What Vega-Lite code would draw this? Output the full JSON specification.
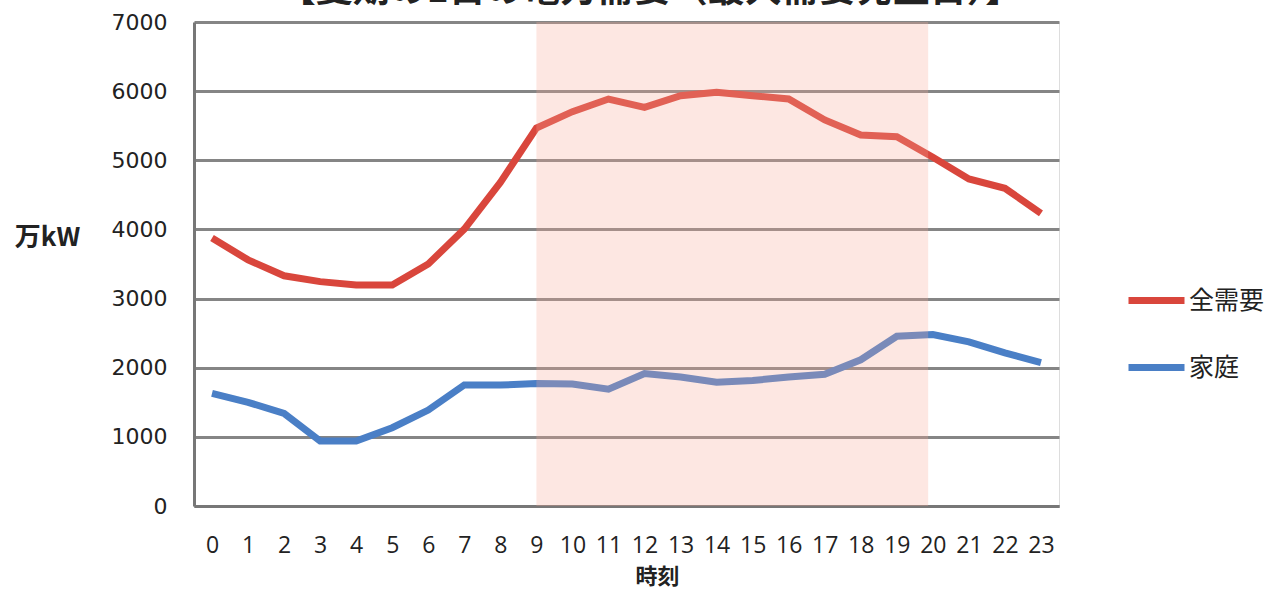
{
  "$schema": "https://vega.github.io/schema/vega-lite/v6.json",
  "autosize": "none",
  "width": 865,
  "height": 484,
  "padding": {"left": 194, "top": 22, "right": 214, "bottom": 84},
  "background": "white",
  "config": {"axis": {"labelOverlap": false}},
  "title": {
    "text": "【夏期の1日の電力需要（最大需要発生日）】",
    "font": "Noto Sans CJK JP",
    "fontSize": 37,
    "fontWeight": "bold",
    "color": "#222222",
    "anchor": "middle",
    "frame": "group",
    "baseline": "bottom",
    "offset": 10,
    "dx": 24,
    "dy": 46
  },
  "datasets": {
    "demand": [
      {"hour": 0, "series": "全需要", "value": 3875},
      {"hour": 1, "series": "全需要", "value": 3560},
      {"hour": 2, "series": "全需要", "value": 3330},
      {"hour": 3, "series": "全需要", "value": 3245},
      {"hour": 4, "series": "全需要", "value": 3196},
      {"hour": 5, "series": "全需要", "value": 3196},
      {"hour": 6, "series": "全需要", "value": 3500},
      {"hour": 7, "series": "全需要", "value": 4005},
      {"hour": 8, "series": "全需要", "value": 4680},
      {"hour": 9, "series": "全需要", "value": 5467},
      {"hour": 10, "series": "全需要", "value": 5703},
      {"hour": 11, "series": "全需要", "value": 5886},
      {"hour": 12, "series": "全需要", "value": 5766},
      {"hour": 13, "series": "全需要", "value": 5934},
      {"hour": 14, "series": "全需要", "value": 5984},
      {"hour": 15, "series": "全需要", "value": 5934},
      {"hour": 16, "series": "全需要", "value": 5886},
      {"hour": 17, "series": "全需要", "value": 5583},
      {"hour": 18, "series": "全需要", "value": 5366},
      {"hour": 19, "series": "全需要", "value": 5341},
      {"hour": 20, "series": "全需要", "value": 5043},
      {"hour": 21, "series": "全需要", "value": 4730},
      {"hour": 22, "series": "全需要", "value": 4595},
      {"hour": 23, "series": "全需要", "value": 4233},
      {"hour": 0, "series": "家庭", "value": 1630},
      {"hour": 1, "series": "家庭", "value": 1500},
      {"hour": 2, "series": "家庭", "value": 1340},
      {"hour": 3, "series": "家庭", "value": 940},
      {"hour": 4, "series": "家庭", "value": 940},
      {"hour": 5, "series": "家庭", "value": 1132},
      {"hour": 6, "series": "家庭", "value": 1388},
      {"hour": 7, "series": "家庭", "value": 1750},
      {"hour": 8, "series": "家庭", "value": 1750},
      {"hour": 9, "series": "家庭", "value": 1770},
      {"hour": 10, "series": "家庭", "value": 1765},
      {"hour": 11, "series": "家庭", "value": 1690},
      {"hour": 12, "series": "家庭", "value": 1915},
      {"hour": 13, "series": "家庭", "value": 1865},
      {"hour": 14, "series": "家庭", "value": 1790},
      {"hour": 15, "series": "家庭", "value": 1815},
      {"hour": 16, "series": "家庭", "value": 1865},
      {"hour": 17, "series": "家庭", "value": 1905},
      {"hour": 18, "series": "家庭", "value": 2115},
      {"hour": 19, "series": "家庭", "value": 2455},
      {"hour": 20, "series": "家庭", "value": 2480},
      {"hour": 21, "series": "家庭", "value": 2375},
      {"hour": 22, "series": "家庭", "value": 2215},
      {"hour": 23, "series": "家庭", "value": 2075}
    ],
    "band": [{"start": 9, "end": 19.87}]
  },
  "layer": [
    {
      "data": {"name": "demand"},
      "mark": {"type": "line", "strokeWidth": 7, "strokeCap": "butt", "strokeJoin": "miter"},
      "encoding": {
        "x": {
          "field": "hour",
          "type": "quantitative",
          "scale": {"domain": [-0.5, 23.5], "nice": false, "zero": false},
          "axis": {
            "values": [0,1,2,3,4,5,6,7,8,9,10,11,12,13,14,15,16,17,18,19,20,21,22,23],
            "format": "d",
            "grid": false,
            "ticks": false,
            "domain": true,
            "domainColor": "#777777",
            "domainWidth": 3,
            "labelFont": "Open Sans",
            "labelFontSize": 23,
            "labelColor": "#222222",
            "labelPadding": 28,
            "labelFlush": false,
            "labelOverlap": false,
            "title": "時刻",
            "titleFont": "Noto Sans CJK JP",
            "titleFontSize": 22,
            "titleFontWeight": "bold",
            "titleColor": "#222222",
            "titleX": 463,
            "titleY": 70,
            "titleAlign": "center",
            "titleBaseline": "middle"
          }
        },
        "y": {
          "field": "value",
          "type": "quantitative",
          "scale": {"domain": [0, 7000], "nice": false},
          "axis": {
            "values": [0,1000,2000,3000,4000,5000,6000,7000],
            "format": "d",
            "grid": true,
            "gridColor": "#858585",
            "gridWidth": 3,
            "ticks": false,
            "domain": true,
            "domainColor": "#777777",
            "domainWidth": 3,
            "labelFont": "DejaVu Sans",
            "labelFontSize": 22,
            "labelColor": "#222222",
            "labelPadding": 27,
            "title": "万kW",
            "titleFont": "Noto Sans CJK JP",
            "titleFontSize": 26,
            "titleFontWeight": "bold",
            "titleColor": "#222222",
            "titleAngle": 0,
            "titleX": -147,
            "titleY": 215,
            "titleAlign": "center",
            "titleBaseline": "middle"
          }
        },
        "color": {
          "field": "series",
          "type": "nominal",
          "scale": {"domain": ["全需要", "家庭"], "range": ["#d9463c", "#4a7fc6"]},
          "legend": {
            "orient": "none",
            "legendX": 931,
            "legendY": 247,
            "title": null,
            "symbolType": "stroke",
            "symbolSize": 3136,
            "symbolStrokeWidth": 7,
            "labelFont": "Noto Sans CJK JP",
            "labelFontSize": 25,
            "labelColor": "#222222",
            "labelOffset": 1,
            "rowPadding": 21
          }
        }
      }
    },
    {
      "data": {"name": "band"},
      "mark": {"type": "rect", "color": "#f7a898", "opacity": 0.28},
      "encoding": {
        "x": {
          "field": "start",
          "type": "quantitative",
          "axis": {
            "values": [0,1,2,3,4,5,6,7,8,9,10,11,12,13,14,15,16,17,18,19,20,21,22,23],
            "format": "d",
            "grid": false,
            "ticks": false,
            "domain": true,
            "domainColor": "#777777",
            "domainWidth": 3,
            "labelFont": "Open Sans",
            "labelFontSize": 23,
            "labelColor": "#222222",
            "labelPadding": 28,
            "labelFlush": false,
            "labelOverlap": false,
            "title": "時刻",
            "titleFont": "Noto Sans CJK JP",
            "titleFontSize": 22,
            "titleFontWeight": "bold",
            "titleColor": "#222222",
            "titleX": 463,
            "titleY": 70,
            "titleAlign": "center",
            "titleBaseline": "middle"
          }
        },
        "x2": {"field": "end"}
      }
    }
  ]
}
